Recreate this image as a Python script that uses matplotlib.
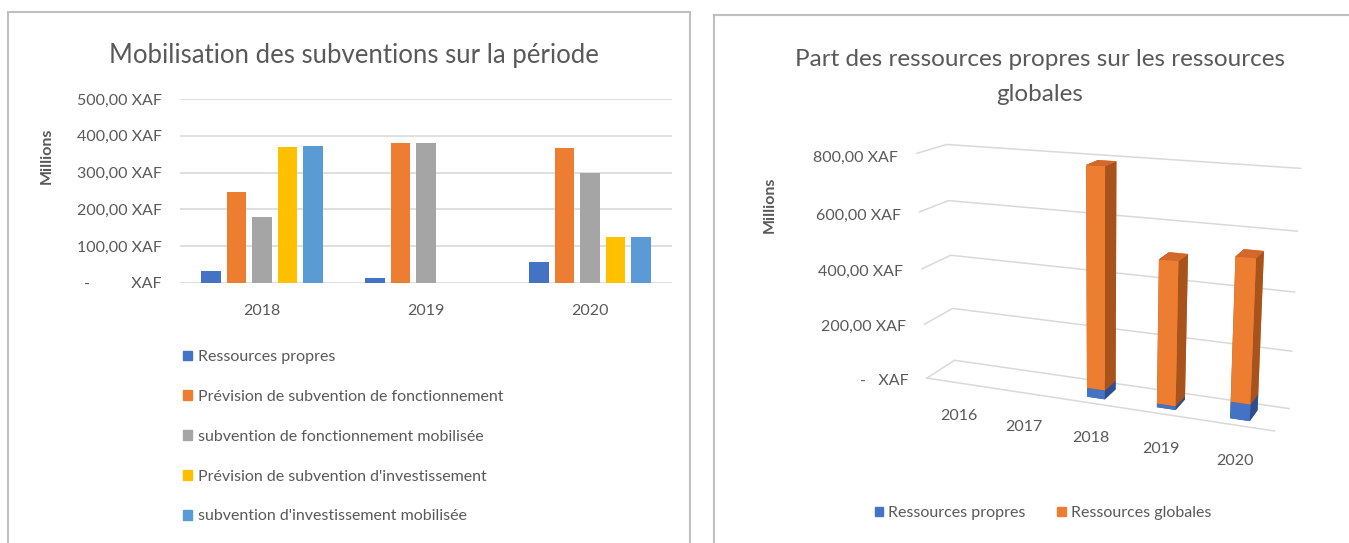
import matplotlib
matplotlib.use('Agg')
import matplotlib.pyplot as plt
import numpy as np
from matplotlib.patches import Rectangle, Patch
from mpl_toolkits.mplot3d import proj3d

# ---------------- data ----------------
years_left = ['2018', '2019', '2020']
series_left = ['Ressources propres',
               'Prévision de subvention de fonctionnement',
               'subvention de fonctionnement mobilisée',
               "Prévision de subvention d'investissement",
               "subvention d'investissement mobilisée"]
ressources_propres = [32, 13, 57]
prevision_fonctionnement = [247, 380, 366]
fonctionnement_mobilisee = [179, 380, 298]
prevision_investissement = [370, 0, 125]
investissement_mobilisee = [373, 0, 125]
colors_left = ['#4472C4', '#ED7D31', '#A5A5A5', '#FFC000', '#5B9BD5']
yticks_left = [0, 100, 200, 300, 400, 500]
ylabels_left = ['-          XAF', '100,00 XAF', '200,00 XAF', '300,00 XAF', '400,00 XAF', '500,00 XAF']

years_right = ['2016', '2017', '2018', '2019', '2020']
propres_right = [0, 0, 32, 13, 57]
globales_right = [0, 0, 760, 492, 482]
series_right = ['Ressources propres', 'Ressources globales']
zticks_right = [0, 200, 400, 600, 800]
zlabels_right = ['-   XAF', '200,00 XAF', '400,00 XAF', '600,00 XAF', '800,00 XAF']

title_left = 'Mobilisation des subventions sur la période'
title_right = 'Part des ressources propres sur les ressources\nglobales'

# ---------------- figure ----------------
W, H = 1349, 543
plt.rcParams['font.family'] = ['Lato', 'DejaVu Sans']
TXT = '#595959'
GRID = '#D9D9D9'
fig = plt.figure(figsize=(W / 100, H / 100), dpi=100)
fig.patch.set_facecolor('white')

def fx(px):
    return px / W

def fy(py):
    return 1 - py / H

# panel borders
fig.add_artist(Rectangle((fx(8), fy(560)), fx(690) - fx(8), fy(12) - fy(560),
                         transform=fig.transFigure, fill=False, ec='#BFBFBF', lw=1.5))
fig.add_artist(Rectangle((fx(714), fy(560)), fx(1360) - fx(714), fy(15) - fy(560),
                         transform=fig.transFigure, fill=False, ec='#BFBFBF', lw=1.5))

# ---------------- left chart ----------------
ax = fig.add_axes([fx(180), fy(283), fx(672) - fx(180), fy(99) - fy(283)])
data_left = [ressources_propres, prevision_fonctionnement, fonctionnement_mobilisee,
             prevision_investissement, investissement_mobilisee]
xl = np.arange(len(years_left))
pitch, bw = 0.156, 0.12
for i, (vals, col, name) in enumerate(zip(data_left, colors_left, series_left)):
    ax.bar(xl + (i - 2) * pitch, vals, width=bw, color=col, label=name, zorder=3)
ax.set_xlim(-0.5, len(years_left) - 0.5)
ax.set_ylim(0, 500)
ax.set_yticks(yticks_left)
ax.set_yticklabels(ylabels_left)
ax.set_xticks(xl)
ax.set_xticklabels(years_left)
ax.grid(axis='y', color=GRID, lw=1.2, zorder=0)
for s in ax.spines.values():
    s.set_visible(False)
ax.tick_params(length=0, labelsize=11.5, colors=TXT)
ax.tick_params(axis='y', pad=13)
ax.tick_params(axis='x', pad=15)
fig.text(fx(47), fy(156), 'Millions', rotation=90, ha='center', va='center',
         fontsize=11.5, color=TXT, fontweight='bold')
fig.text(fx(354), fy(55), title_left, ha='center', va='center', fontsize=18.5, color=TXT)

handles_l = [Patch(color=c) for c in colors_left]
fig.legend(handles_l, series_left, loc='upper left', bbox_to_anchor=(fx(183), fy(350)),
           frameon=False, fontsize=11.5, labelcolor=TXT, handlelength=0.55, handleheight=0.55,
           handletextpad=0.4, labelspacing=1.62, borderpad=0, borderaxespad=0)

# ---------------- right chart (3D) ----------------
S0 = 400
ax3 = fig.add_axes([fx(850), fy(500), S0 / W, S0 / H], projection='3d', computed_zorder=False)
nx = len(years_right)
xmin, xmax = -0.5, nx - 0.5
ax3.set_xlim(xmin, xmax)
ax3.set_ylim(0, 1)
ax3.set_zlim(0, 800)
ax3.set_xticks([])
ax3.set_yticks([])
ax3.set_zticks([])
ax3.set_axis_off()

# reference geometry of the chart's wall corners (pixels, top-left origin)
pts = np.array([(xmin, 0, 800), (xmin, 1, 800), (xmax, 1, 800), (xmax, 1, 0),
                (xmax, 0, 0), (xmin, 0, 0), (xmin, 1, 0)], float)
tgt = np.array([(917, 153), (948, 145), (1297, 168), (1290, 408),
                (1277, 433), (927, 378), (953, 359)], float)
tgt[:, 1] = H - tgt[:, 1]

def project(a, P3):
    M = a.get_proj()
    xs, ys, _ = proj3d.proj_transform(P3[:, 0], P3[:, 1], P3[:, 2], M)
    return a.transData.transform(np.column_stack([xs, ys]))

def apply_view(p):
    el, az, fl, ay, az_ = p
    ax3.set_box_aspect((1.0, ay, az_))
    ax3.set_proj_type('persp', focal_length=fl)
    ax3.view_init(elev=el, azim=az)

def fit_err(p):
    apply_view(p)
    P = project(ax3, pts)
    q = P - P.mean(0)
    t = tgt - tgt.mean(0)
    s = (q * t).sum() / (q * q).sum()
    return ((t - s * q) ** 2).sum()

fig.canvas.draw()
params = np.array([14.0, -71.0, 0.6, 0.23, 0.62])
steps = np.array([2.0, 2.0, 0.15, 0.04, 0.05])
lo = np.array([1, -89, 0.15, 0.05, 0.2])
hi = np.array([40, -45, 5.0, 0.8, 1.5])
best = fit_err(params)
for _ in range(300):
    improved = False
    for k in range(len(params)):
        for sgn in (1, -1):
            trial = params.copy()
            trial[k] = np.clip(trial[k] + sgn * steps[k], lo[k], hi[k])
            e = fit_err(trial)
            if e < best:
                best, params, improved = e, trial, True
    if not improved:
        steps *= 0.5
        if steps.max() < 1e-3:
            break
apply_view(params)

# gridlines: left wall + back wall at each z tick, plus floor front edge
for t in zticks_right:
    ax3.plot([xmin, xmin, xmax], [0, 1, 1], [t, t, t], color=GRID, lw=1.1, zorder=1)
ax3.plot([xmin, xmax], [0, 0], [0, 0], color=GRID, lw=1.1, zorder=1)

dx, dy, y0 = 0.26, 0.5, 0.24
blue_faces = ['#2E4F8F', '#3A62AA', '#4472C4', '#4472C4', '#2E4F8F', '#2E4F8F']
orange_faces = ['#A8521C', '#D2692A', '#ED7D31', '#ED7D31', '#A8521C', '#A8521C']
zo = 5
for i in range(nx):
    p, g = propres_right[i], globales_right[i]
    if p > 0:
        ax3.bar3d(i - dx / 2, y0, 0, dx, dy, p, color=blue_faces, shade=False, lw=0, zorder=zo)
        zo += 1
    if g > 0:
        ax3.bar3d(i - dx / 2, y0, p, dx, dy, g, color=orange_faces, shade=False, lw=0, zorder=zo)
        zo += 1

# place the fitted box onto the target layout
fig.canvas.draw()
cur = project(ax3, pts)
bb = ax3.get_position().transformed(fig.transFigure)
cen = np.array([(bb.x0 + bb.x1) / 2, (bb.y0 + bb.y1) / 2])
S = bb.width
q = cur - cen
qm, tm = q.mean(0), tgt.mean(0)
s = ((q - qm) * (tgt - tm)).sum() / ((q - qm) ** 2).sum()
cnew = tm - s * qm
Sn = S * s
ax3.set_position([(cnew[0] - Sn / 2) / W, (cnew[1] - Sn / 2) / H, Sn / W, Sn / H])
fig.canvas.draw()

# tick labels of the 3D chart, placed at the projected anchor points
zanchor = np.array([(xmin - 0.3, 0, t - 20) for t in zticks_right], float)
for (px, py), lab in zip(project(ax3, zanchor), zlabels_right):
    fig.text(px / W, py / H, lab, ha='right', va='center', fontsize=11.5, color=TXT)
xanchor = np.array([(i, 0, -125) for i in range(nx)], float)
for (px, py), yr in zip(project(ax3, xanchor), years_right):
    fig.text(px / W, py / H, yr, ha='center', va='center', fontsize=11.5, color=TXT)

fig.text(fx(770), fy(205), 'Millions', rotation=90, ha='center', va='center',
         fontsize=11.5, color=TXT, fontweight='bold')
fig.text(fx(1040), fy(77), title_right, ha='center', va='center', fontsize=17.5, color=TXT,
         linespacing=1.8)

handles_r = [Patch(color='#4472C4'), Patch(color='#ED7D31')]
fig.legend(handles_r, series_right, loc='center', bbox_to_anchor=(fx(1043), fy(513)),
           ncol=2, frameon=False, fontsize=11.5, labelcolor=TXT, handlelength=0.55,
           handleheight=0.55, handletextpad=0.3, columnspacing=2.0, borderpad=0)

fig.savefig('out.png', dpi=100, facecolor='white')
